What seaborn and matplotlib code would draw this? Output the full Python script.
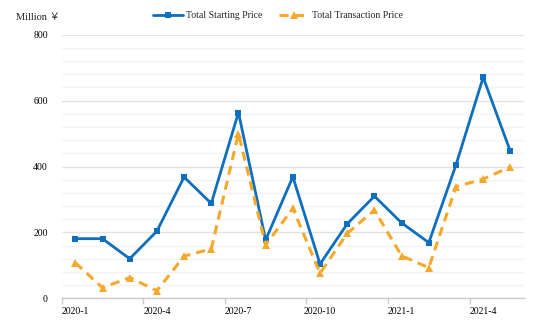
import matplotlib
matplotlib.use("Agg")
import matplotlib.pyplot as plt
import seaborn as sns
import pandas as pd
import numpy as np
from matplotlib.ticker import MultipleLocator, FixedLocator

months = ["2020-1", "2020-2", "2020-3", "2020-4", "2020-5", "2020-6", "2020-7", "2020-8",
          "2020-9", "2020-10", "2020-11", "2020-12", "2021-1", "2021-2", "2021-3", "2021-4", "2021-5"]
starting = [181, 181, 120, 204, 368, 288, 564, 177, 369, 104, 226, 310, 229, 169, 405, 671, 446]
transaction = [108, 32, 63, 23, 128, 150, 500, 162, 273, 76, 197, 268, 129, 93, 339, 362, 399]

BLUE = "#0F6FBF"
ORANGE = "#F5A82B"

sns.set_theme(style="white")
plt.rcParams["font.family"] = ["Liberation Serif", "Noto Sans CJK SC", "DejaVu Sans"]

df = pd.DataFrame({"month": months, "Total Starting Price": starting,
                   "Total Transaction Price": transaction})
df["idx"] = np.arange(len(months))

fig = plt.figure(figsize=(5.54, 3.28), dpi=100)
ax = fig.add_axes([0.1114, 0.0905, 0.9458 - 0.1114, 0.894 - 0.0905])

sns.lineplot(data=df, x="idx", y="Total Starting Price", ax=ax, color=BLUE, lw=2,
             marker="s", markersize=5, markeredgewidth=0, label="Total Starting Price")
sns.lineplot(data=df, x="idx", y="Total Transaction Price", ax=ax, color=ORANGE, lw=2.2,
             marker="^", markersize=5.5, markeredgewidth=0, dashes=(3, 2),
             label="Total Transaction Price")
ax.lines[1].set_dashes([3, 2]) if len(ax.lines) > 1 else None

ax.set_xlim(-0.5, len(months) - 0.5)
ax.set_ylim(0, 800)

# y grid
ax.yaxis.set_major_locator(MultipleLocator(200))
ax.yaxis.set_minor_locator(MultipleLocator(40))
ax.grid(axis="y", which="major", color="#e3e3e3", lw=1)
ax.grid(axis="y", which="minor", color="#f3f3f3", lw=1)
ax.set_axisbelow(True)

# x ticks: labels at centers every 3, tick marks at boundaries
ax.xaxis.set_major_locator(FixedLocator(list(range(0, len(months), 3))))
ax.set_xticklabels([months[i] for i in range(0, len(months), 3)])
ax.xaxis.set_minor_locator(FixedLocator([i - 0.5 for i in range(0, len(months), 3)]))
ax.tick_params(axis="x", which="major", length=0, pad=6, labelsize=7, colors="black")
ax.tick_params(axis="x", which="minor", length=4, width=1, color="#cccccc", bottom=True)
ax.tick_params(axis="y", which="both", length=0, pad=10, labelsize=7, colors="black")

for s in ["top", "right", "left"]:
    ax.spines[s].set_visible(False)
ax.spines["bottom"].set_color("#cccccc")
ax.spines["bottom"].set_linewidth(1)

ax.set_xlabel("")
ax.set_ylabel("")

fig.text(16 / 554, 1 - 18 / 328, "Million ￥", fontsize=7.5, va="center", ha="left")

handles, labels = ax.get_legend_handles_labels()
ax.get_legend().remove()
fig.legend(handles, labels, loc="center", bbox_to_anchor=(278 / 554, 1 - 16 / 328), ncol=2,
           frameon=False, fontsize=7, handlelength=3, columnspacing=1.8, handletextpad=0.3)

fig.savefig("out.png", dpi=100)
